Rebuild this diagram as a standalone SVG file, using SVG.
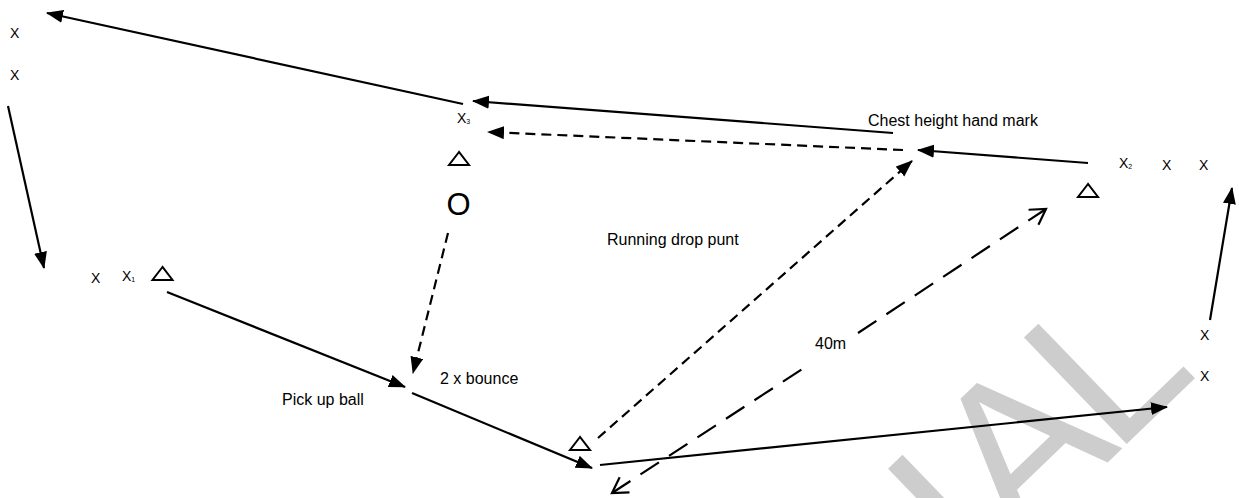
<svg xmlns="http://www.w3.org/2000/svg" width="1239" height="498" viewBox="0 0 1239 498">
  <style>
    text { font-family: "Liberation Sans", Arial, sans-serif; fill: #000; }
    .lbl { font-size: 16px; }
    .x { font-size: 14px; }
    .sub { font-size: 7px; }
    .cone { fill: none; stroke: #000; stroke-width: 2; stroke-linejoin: miter; }
    .solid { fill: none; stroke: #000; stroke-width: 2.2; }
    .dash { fill: none; stroke: #000; stroke-width: 2.2; stroke-dasharray: 10 6; }
    .ldash { fill: none; stroke: #000; stroke-width: 2.2; stroke-dasharray: 22 12; }
    .mark { fill: #cdcdcd; font-size: 215px; }
  </style>
  <defs>
    <marker id="head" markerUnits="userSpaceOnUse" markerWidth="18" markerHeight="14" refX="16" refY="6.5" orient="auto">
      <path d="M0,0 L17,6.5 L0,13 z" fill="#000"/>
    </marker>
    <marker id="open" markerUnits="userSpaceOnUse" markerWidth="20" markerHeight="22" refX="16" refY="10" orient="auto-start-reverse">
      <path d="M1,1 L16,10 L1,19" fill="none" stroke="#000" stroke-width="2.2"/>
    </marker>
  </defs>

  <!-- background watermark -->
  <text class="mark" transform="translate(976.5,589) rotate(-44)">IA<tspan dx="-12">L</tspan></text>

  <!-- movement and kick paths -->
  <g id="connectors">
    <path class="solid" d="M463,104 L47,13" marker-end="url(#head)"/>
    <path class="solid" d="M893,133 L473,101" marker-end="url(#head)"/>
    <path class="dash" d="M903,150 L488,132" marker-end="url(#head)"/>
    <path class="solid" d="M1088,163 L918,150" marker-end="url(#head)"/>
    <path class="dash" d="M598,438 L912,161" marker-end="url(#head)"/>
    <path class="ldash" d="M612,493 L807,366 M858,333 L1046,209" marker-start="url(#open)" marker-end="url(#open)"/>
    <path class="dash" d="M448,233 L413,373" marker-end="url(#head)"/>
    <path class="solid" d="M167,292 L405,387" marker-end="url(#head)"/>
    <path class="solid" d="M412,393 L592,468" marker-end="url(#head)"/>
    <path class="solid" d="M600,465 L1167,407" marker-end="url(#head)"/>
    <path class="solid" d="M1210,320 L1232,188" marker-end="url(#head)"/>
    <path class="solid" d="M8,106 L44,268" marker-end="url(#head)"/>
  </g>

  <!-- players: top-left queue -->
  <g id="queue-left-top">
    <text class="x" x="10" y="38">X</text>
    <text class="x" x="10" y="80">X</text>
  </g>

  <!-- start group X1 with cone -->
  <g id="start-x1">
    <text class="x" x="91" y="283">X</text>
    <text class="x" x="122" y="281">X<tspan class="sub" dy="1">1</tspan></text>
    <polygon class="cone" points="162.5,267 152.5,280 172.5,280"/>
  </g>

  <!-- X3 station with cone and target -->
  <g id="station-x3">
    <text class="x" x="457" y="123">X<tspan class="sub" dy="1">3</tspan></text>
    <polygon class="cone" points="459,152 449,165 469,165"/>
    <text x="446.5" y="214.5" style="font-size:31px">O</text>
  </g>

  <!-- X2 station -->
  <g id="station-x2">
    <text class="x" x="1119" y="168">X<tspan class="sub" dy="1">2</tspan></text>
    <text class="x" x="1162" y="170">X</text>
    <text class="x" x="1199" y="170">X</text>
    <polygon class="cone" points="1088,184 1078,197 1098,197"/>
  </g>

  <!-- right side queue -->
  <g id="queue-right">
    <text class="x" x="1200" y="340">X</text>
    <text class="x" x="1200" y="381">X</text>
  </g>

  <!-- bottom cone -->
  <g id="cone-bottom">
    <polygon class="cone" points="580,437 570,450 590,450"/>
  </g>

  <!-- labels -->
  <g id="labels">
    <text class="lbl" x="868" y="126">Chest height hand mark</text>
    <text class="lbl" x="607" y="245">Running drop punt</text>
    <text class="lbl" x="815" y="349">40m</text>
    <text class="lbl" x="440" y="384">2 x bounce</text>
    <text class="lbl" x="282" y="405">Pick up ball</text>
  </g>
</svg>
